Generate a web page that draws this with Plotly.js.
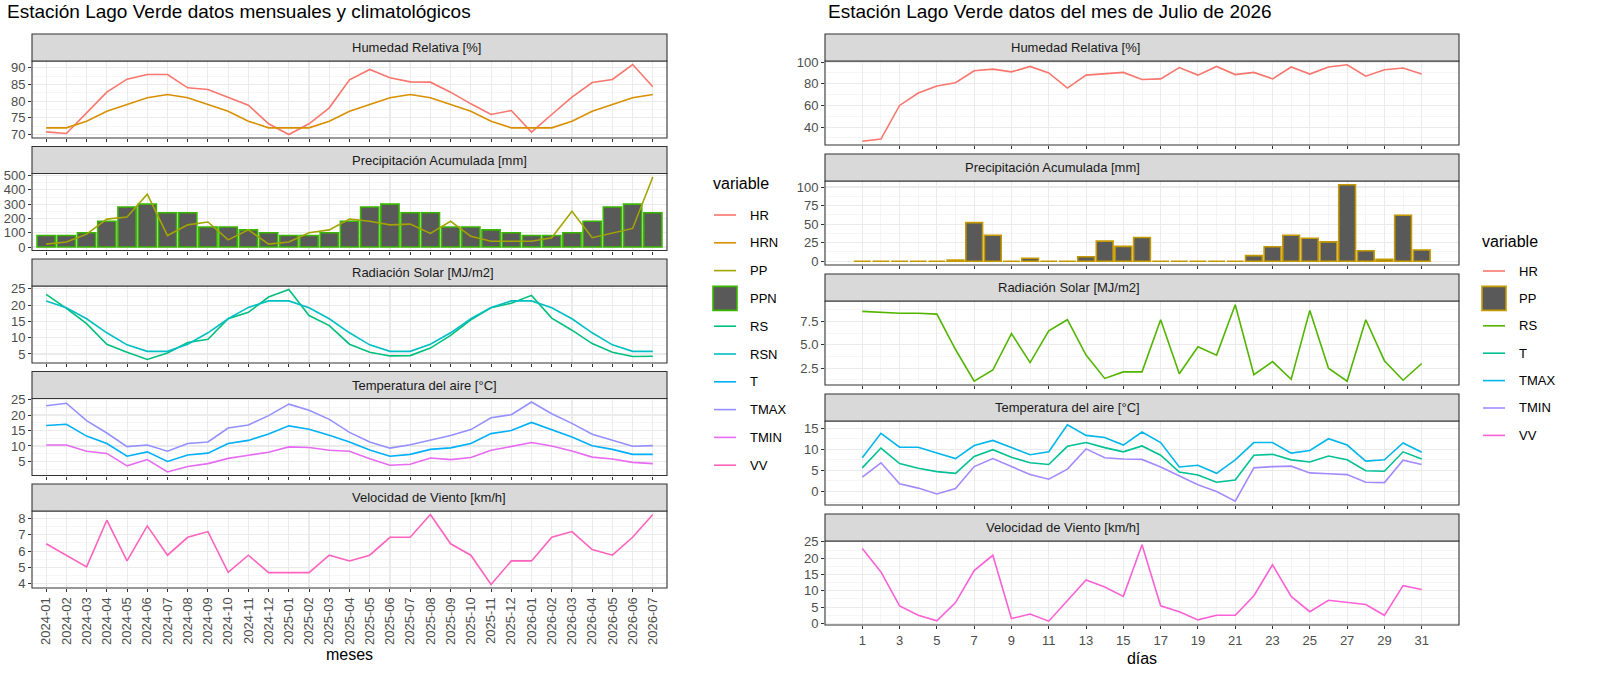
<!DOCTYPE html>
<html>
<head>
<meta charset="utf-8">
<script src="https://cdn.plot.ly/plotly-3.0.1.min.js"></script>
<style>body{margin:0;background:#fff}#chart{width:1600px;height:676px}</style>
</head>
<body>
<div id="chart"></div>
<script>
// monthly / climatological series (left)
const meses = ['2024-01','2024-02','2024-03','2024-04','2024-05','2024-06','2024-07','2024-08','2024-09','2024-10','2024-11','2024-12',
	'2025-01','2025-02','2025-03','2025-04','2025-05','2025-06','2025-07','2025-08','2025-09','2025-10','2025-11','2025-12',
	'2026-01','2026-02','2026-03','2026-04','2026-05','2026-06','2026-07']
const hr_m = [70.8,70.3,76.5,82.7,86.6,88,88,84,83.5,81.2,78.8,73.2,70,73.2,78,86.4,89.5,87,85.8,85.7,82.7,79.2,76,77.2,70.7,76,81.2,85.6,86.5,91,84.3]
const hrn_m = [72,72,74,77,79,81,82,81,79,77,74,72,72,72,74,77,79,81,82,81,79,77,74,72,72,72,74,77,79,81,82]
const ppn_m = [80,80,100,180,280,300,240,240,140,140,120,100,80,80,100,180,280,300,240,240,140,140,120,100,80,80,100,180,280,300,240]
const pp_m = [20,35,90,195,210,370,80,155,175,50,120,20,35,100,120,195,180,155,160,95,180,75,40,40,40,65,250,65,100,130,490]
const rs_m = [23.3,19,14.3,8,5.5,3.3,5.3,8.5,9.5,15.8,17.8,22.5,24.8,16.8,13.7,8,5.5,4.4,4.5,6.8,10.7,15.5,19.2,20.6,23,16,12.3,8.2,5.5,4.2,4.3]
const rsn_m = [21.3,19.2,15.8,11.5,7.8,5.8,5.8,8,11.5,15.8,19.3,21.3,21.3,19.2,15.8,11.5,7.8,5.8,5.8,8,11.5,15.8,19.3,21.3,21.3,19.2,15.8,11.5,7.8,5.8,5.8]
const tmax_m = [23,23.8,18.2,14.2,9.8,10.3,8.3,10.8,11.3,15.8,16.8,19.8,23.5,21.5,18.6,14.4,11.3,9.3,10.4,11.8,13.4,15.3,19.1,20.1,24.2,20.4,17.3,13.8,11.9,9.9,10.1]
const t_m = [16.6,17,13.2,10.8,6.7,8.1,5,7.1,7.7,10.8,11.8,13.9,16.5,15.4,13.5,11.3,8.7,6.7,7.3,8.9,9.4,10.8,14,15,17.6,15.2,12.9,10.1,8.9,7.3,7.3]
const tmin_m = [10.3,10.3,8.3,7.6,3.6,5.6,1.6,3.4,4.3,6,7,8,9.7,9.5,8.6,8.3,5.9,3.8,4.1,6.1,5.6,6.3,8.6,9.9,11.1,10,8.4,6.4,5.8,4.7,4.3]
const vv_m = [6.45,5.75,5.03,7.9,5.4,7.55,5.75,6.85,7.2,4.7,5.75,4.68,4.68,4.68,5.75,5.4,5.75,6.85,6.85,8.25,6.45,5.75,3.95,5.4,5.4,6.85,7.2,6.1,5.75,6.85,8.25]

// daily series July 2026 (right)
const dias = Array.from({length: 31}, (_, i) => i + 1)
const dias_tick = dias.filter(d => d % 2 === 1)
const hr_d = [27,29,60,71.5,78,81,92,93.5,91,96,90,76,88,89.5,90.5,84,84.5,95,88,96,88.5,90.5,84.5,95.5,89,95.5,97.5,87,93,94.5,89]
const pp_d = [0,0,0,0,0,1.5,52,35,0,4,0,0,6,27,20,32,0,0,0,0,0,7.5,19.5,35,31,26,103,14,2.5,62,15]
const rs_d = [8.6,8.5,8.4,8.4,8.3,4.5,1.1,2.3,6.2,3.1,6.5,7.7,3.9,1.4,2.1,2.1,7.7,1.9,4.8,3.9,9.3,1.8,3.2,1.3,8.7,2.5,1.1,7.7,3.3,1.2,3.0]
const tmax_d = [8,13.8,10.5,10.5,9.1,7.8,10.9,12.1,10.4,8.7,9.4,15.8,13.3,12.8,11,14.1,11.6,5.8,6.2,4.3,7.5,11.6,11.6,9.1,9.7,12.5,11,7.2,7.5,11.5,9.3]
const t_d = [5.6,10.3,6.6,5.5,4.7,4.3,8.3,9.9,8.1,6.8,6.4,10.7,11.6,10.4,9.4,10.8,8.6,4.6,3.9,2.2,2.7,8.6,8.8,7.5,7,8.4,7.5,4.9,4.8,9.4,7.7]
const tmin_d = [3.4,6.8,1.8,0.8,-0.6,0.7,5.9,7.8,5.9,4,2.9,5.3,10.1,8,7.7,7.6,5.8,3.7,1.6,0,-2.3,5.6,5.9,6,4.4,4.2,4,2.2,2.1,7.4,6.4]
const vv_d = [23,15.8,5.4,2.5,0.8,6.4,16.2,20.9,1.5,2.9,0.7,7.1,13.3,11.2,8.3,24.1,5.4,3.6,1.1,2.5,2.5,8.5,18,8.3,3.6,7.1,6.5,5.8,2.5,11.6,10.4]

const facetas = ['Humedad Relativa [%]', 'Precipitación Acumulada [mm]', 'Radiación Solar [MJ/m2]', 'Temperatura del aire [°C]', 'Velocidad de Viento [km/h]']

const W = 1600, H = 676
const FONT = 'Liberation Sans, Arial, sans-serif'
const idx = meses.map((_, i) => i)

// panel [name, colour, data, type] per facet
const left = [
	[['HR', '#F8766D', hr_m], ['HRN', '#D89000', hrn_m]],
	[['PPN', '#39B600', ppn_m, 'bar'], ['PP', '#A3A500', pp_m]],
	[['RS', '#00BF7D', rs_m], ['RSN', '#00BFC4', rsn_m]],
	[['T', '#00B0F6', t_m], ['TMAX', '#9590FF', tmax_m], ['TMIN', '#E76BF3', tmin_m]],
	[['VV', '#FF62BC', vv_m]],
]
const right = [
	[['HR', '#F8766D', hr_d]],
	[['PP', '#C49A00', pp_d, 'bar']],
	[['RS', '#53B400', rs_d]],
	[['T', '#00C094', t_d], ['TMAX', '#00B6EB', tmax_d], ['TMIN', '#A58AFF', tmin_d]],
	[['VV', '#FB61D7', vv_d]],
]
const ticksL = [[70, 5], [0, 100], [5, 5], [5, 5], [4, 1]]
const ticksR = [[40, 20], [0, 25], [2.5, 2.5], [0, 5], [0, 5]]

const traces = [], shapes = [], annotations = []
const layout = {
	width: W, height: H, margin: {l: 0, r: 0, t: 0, b: 0},
	paper_bgcolor: 'white', plot_bgcolor: 'white', showlegend: false,
	font: {family: FONT, size: 13, color: '#4d4d4d'}, bargap: 0.1,
	shapes, annotations,
}
const px = (a, b) => [a / W, b / W]
const py = (top, bot) => [1 - bot / H, 1 - top / H]

function yrange(series) {
	let lo = Infinity, hi = -Infinity
	series.forEach(([, , d, type]) => {
		lo = Math.min(lo, ...d, type === 'bar' ? 0 : Infinity)
		hi = Math.max(hi, ...d)
	})
	const pad = (hi - lo) * 0.05
	return [lo - pad, hi + pad]
}

function addFacets(panels, side) {
	const off = side === 'L' ? 0 : 5
	const xs = side === 'L' ? [32, 667] : [825, 1459]
	panels.forEach((series, i) => {
		const n = off + i + 1
		const top = side === 'L' ? 34 + 112.5 * i : 34 + 120 * i
		const stripBot = top + 27
		const bot = side === 'L' ? top + 104 : top + 111
		const xa = n === 1 ? 'x' : 'x' + n, ya = n === 1 ? 'y' : 'y' + n
		const tk = (side === 'L' ? ticksL : ticksR)[i]
		const last = i === panels.length - 1
		layout['xaxis' + (n === 1 ? '' : n)] = side === 'L' ? {
			domain: px(...xs), anchor: ya, range: [-0.7, 30.7],
			tickmode: 'array', tickvals: idx, ticktext: meses, tickangle: -90,
			showticklabels: last, ticks: 'outside', ticklen: 3, tickcolor: '#333',
			gridcolor: '#ebebeb', gridwidth: 1.1, zeroline: false, showline: false,
			tickfont: {size: 13, color: '#4d4d4d'},
			title: last ? {text: 'meses', font: {size: 16, color: '#000'}, standoff: 4} : undefined,
		} : {
			domain: px(...xs), anchor: ya, range: [-1, 33],
			tickmode: 'array', tickvals: dias_tick,
			minor: {tickmode: 'array', tickvals: dias, showgrid: true, gridcolor: '#ebebeb', gridwidth: 0.5},
			showticklabels: last, ticks: 'outside', ticklen: 3, tickcolor: '#333',
			gridcolor: '#ebebeb', gridwidth: 1.1, zeroline: false, showline: false,
			tickfont: {size: 13, color: '#4d4d4d'},
			title: last ? {text: 'días', font: {size: 16, color: '#000'}, standoff: 6} : undefined,
		}
		layout['yaxis' + (n === 1 ? '' : n)] = {
			domain: py(stripBot, bot), anchor: xa, range: yrange(series),
			tickmode: 'linear', tick0: tk[0], dtick: tk[1],
			tickformat: side === 'R' && i === 2 ? '.1f' : '',
			minor: {dtick: tk[1] / 2, showgrid: true, gridcolor: '#ebebeb', gridwidth: 0.5},
			ticks: 'outside', ticklen: 3, tickcolor: '#333',
			gridcolor: '#ebebeb', gridwidth: 1.1, zeroline: false, showline: false,
			tickfont: {size: 13, color: '#4d4d4d'},
		}
		series.forEach(([name, col, d, type]) => {
			const x = side === 'L' ? idx : dias
			if (type === 'bar') {
				traces.push({type: 'bar', x, y: d, xaxis: xa, yaxis: ya, name, width: 0.9,
					marker: {color: '#595959', line: {color: col, width: 1.6}}})
			} else {
				traces.push({type: 'scatter', mode: 'lines', x, y: d, xaxis: xa, yaxis: ya, name,
					line: {color: col, width: 1.6}})
			}
		})
		// panel border and strip
		shapes.push({type: 'rect', xref: 'paper', yref: 'paper', x0: xs[0] / W, x1: xs[1] / W,
			y0: 1 - bot / H, y1: 1 - stripBot / H, line: {color: '#333', width: 1.1}})
		shapes.push({type: 'rect', xref: 'paper', yref: 'paper', x0: xs[0] / W, x1: xs[1] / W,
			y0: 1 - stripBot / H, y1: 1 - top / H, fillcolor: '#d9d9d9', line: {color: '#333', width: 1.1}})
		annotations.push({xref: 'paper', yref: 'paper', x: (xs[0] + xs[1]) / 2 / W, y: 1 - (top + stripBot) / 2 / H,
			text: facetas[i], showarrow: false, font: {size: 13, color: '#1a1a1a'}, yanchor: 'middle'})
	})
}
addFacets(left, 'L')
addFacets(right, 'R')

// legends drawn by hand to keep ggplot spacing
function addLegend(items, x, yTitle, yFirst, step) {
	annotations.push({xref: 'paper', yref: 'paper', x: x / W, y: 1 - yTitle / H, xanchor: 'left', yanchor: 'middle',
		text: 'variable', showarrow: false, font: {size: 16, color: '#000'}})
	let y = yFirst
	items.forEach(([name, col, type]) => {
		if (type === 'bar') {
			shapes.push({type: 'rect', xref: 'paper', yref: 'paper', x0: (x + 2) / W, x1: (x + 26) / W,
				y0: 1 - (y + 12) / H, y1: 1 - (y - 12) / H, fillcolor: '#595959', line: {color: col, width: 1.6}})
		} else {
			shapes.push({type: 'line', xref: 'paper', yref: 'paper', x0: (x + 3) / W, x1: (x + 25) / W,
				y0: 1 - y / H, y1: 1 - y / H, line: {color: col, width: 1.6}})
		}
		annotations.push({xref: 'paper', yref: 'paper', x: (x + 37) / W, y: 1 - y / H, xanchor: 'left', yanchor: 'middle',
			text: name, showarrow: false, font: {size: 13, color: '#000'}})
		y += step
	})
}
const legL = left.flat().map(s => [s[0], s[1], s[3]]).sort((a, b) => a[0].localeCompare(b[0]))
const legR = right.flat().map(s => [s[0], s[1], s[3]]).sort((a, b) => a[0].localeCompare(b[0]))
addLegend(legL, 711, 183, 215, 27.8)
addLegend(legR, 1480, 241, 271, 27.4)

annotations.push({xref: 'paper', yref: 'paper', x: 5 / W, y: 1 - 12 / H, xanchor: 'left', yanchor: 'middle',
	text: 'Estación Lago Verde datos mensuales y climatológicos', showarrow: false, font: {size: 19, color: '#000'}})
annotations.push({xref: 'paper', yref: 'paper', x: 826 / W, y: 1 - 12 / H, xanchor: 'left', yanchor: 'middle',
	text: 'Estación Lago Verde datos del mes de Julio de 2026', showarrow: false, font: {size: 19, color: '#000'}})

Plotly.newPlot('chart', traces, layout, {displayModeBar: false, staticPlot: true})
</script>
</body>
</html>
